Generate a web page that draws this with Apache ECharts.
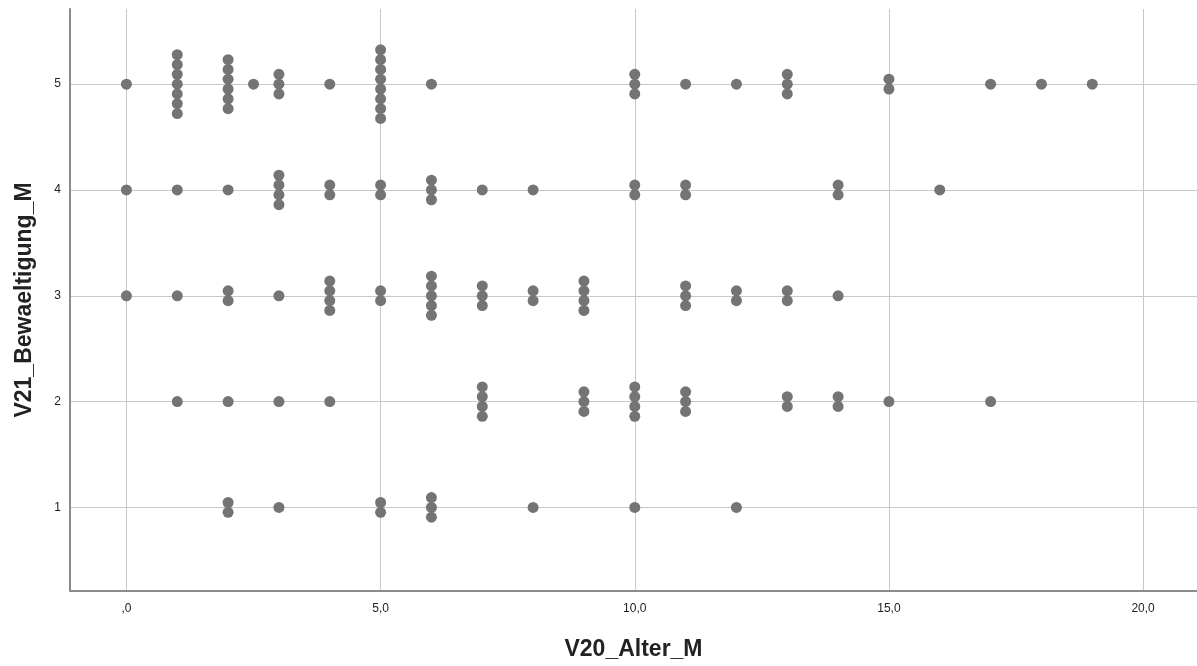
<!DOCTYPE html>
<html>
<head>
<meta charset="utf-8">
<title>V21_Bewaeltigung_M / V20_Alter_M</title>
<script src="https://cdn.jsdelivr.net/npm/echarts@6/dist/echarts.min.js"></script>
<style>
  html, body { margin: 0; padding: 0; background: #fff; }
  #chart { width: 1197px; height: 666px; }
</style>
</head>
<body>
<div id="chart"></div>
<script>
// one entry per (age, coping) cell, count = number of cases stacked there
var ageX      = [0, 1, 2, 2.5, 3, 4, 5, 6, 10, 11, 12, 13, 15, 17, 18, 19,
                 0, 1, 2, 3, 4, 5, 6, 7, 8, 10, 11, 14, 16,
                 0, 1, 2, 3, 4, 5, 6, 7, 8, 9, 11, 12, 13, 14,
                 1, 2, 3, 4, 7, 9, 10, 11, 13, 14, 15, 17,
                 2, 3, 5, 6, 8, 10, 12];
var copingY   = [5, 5, 5, 5, 5, 5, 5, 5, 5, 5, 5, 5, 5, 5, 5, 5,
                 4, 4, 4, 4, 4, 4, 4, 4, 4, 4, 4, 4, 4,
                 3, 3, 3, 3, 3, 3, 3, 3, 3, 3, 3, 3, 3, 3,
                 2, 2, 2, 2, 2, 2, 2, 2, 2, 2, 2, 2,
                 1, 1, 1, 1, 1, 1, 1];
var caseCount = [1, 7, 6, 1, 3, 1, 8, 1, 3, 1, 1, 3, 2, 1, 1, 1,
                 1, 1, 1, 4, 2, 2, 3, 1, 1, 2, 2, 2, 1,
                 1, 1, 2, 1, 4, 2, 5, 3, 2, 4, 3, 2, 2, 1,
                 1, 1, 1, 1, 4, 3, 4, 3, 2, 2, 1, 1,
                 2, 1, 2, 3, 1, 1, 1];

var xTicks = [0, 5, 10, 15, 20];
var yTicks = [1, 2, 3, 4, 5];

var dotGap = 9.8; // px between stacked dots

var points = [];
for (var i = 0; i < ageX.length; i++) {
  var n = caseCount[i];
  for (var k = 0; k < n; k++) {
    points.push({
      value: [ageX[i], copingY[i]],
      symbolOffset: [0, (k - (n - 1) / 2) * dotGap]
    });
  }
}

function fmtComma(v) {
  if (v === 0) return ',0';
  return v.toFixed(1).replace('.', ',');
}

var chart = echarts.init(document.getElementById('chart'), null, { renderer: 'canvas' });

var titleFont = { fontFamily: 'Liberation Sans', fontSize: 23, fontWeight: 'bold', color: '#222' };

var option = {
  backgroundColor: '#ffffff',
  animation: false,
  grid: { left: 70, right: 0, top: 9, bottom: 74 },
  xAxis: {
    type: 'value',
    min: -1.11,
    max: 21.06,
    name: 'V20_Alter_M',
    nameLocation: 'middle',
    nameGap: 47,
    nameTextStyle: titleFont,
    axisLine: { show: true, onZero: false, lineStyle: { color: '#8c8c8c', width: 2 } },
    axisTick: { show: false, customValues: xTicks },
    axisLabel: {
      customValues: xTicks,
      formatter: fmtComma,
      margin: 12,
      fontFamily: 'Liberation Sans',
      fontSize: 12,
      color: '#222'
    },
    splitLine: { show: true, lineStyle: { color: '#c8c8c8', width: 1 } }
  },
  yAxis: {
    type: 'value',
    min: 0.21,
    max: 5.71,
    name: 'V21_Bewaeltigung_M',
    nameLocation: 'middle',
    nameGap: 34,
    nameTextStyle: titleFont,
    axisLine: { show: true, onZero: false, lineStyle: { color: '#8c8c8c', width: 2 } },
    axisTick: { show: false, customValues: yTicks },
    axisLabel: {
      customValues: yTicks,
      margin: 9,
      fontFamily: 'Liberation Sans',
      fontSize: 12,
      color: '#222'
    },
    splitLine: { show: true, lineStyle: { color: '#c8c8c8', width: 1 } }
  },
  series: [{
    type: 'scatter',
    symbol: 'circle',
    symbolSize: 11,
    itemStyle: { color: '#747474', opacity: 1 },
    data: points
  }]
};

chart.setOption(option);
window.addEventListener('resize', chart.resize);
</script>
</body>
</html>
